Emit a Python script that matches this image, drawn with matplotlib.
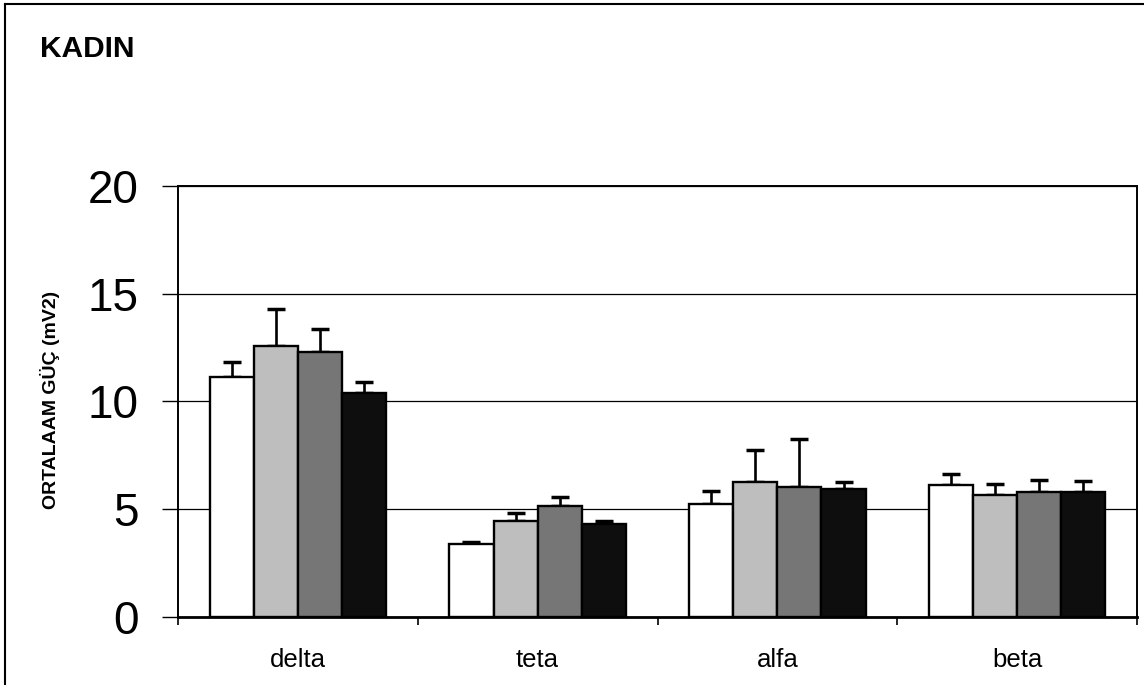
import matplotlib
matplotlib.use("Agg")
import matplotlib.pyplot as plt
import numpy as np
from matplotlib.lines import Line2D

plt.rcParams['font.family'] = ['Liberation Sans', 'DejaVu Sans']

categories = ["delta", "teta", "alfa", "beta"]
series1 = [11.14, 3.39, 5.24, 6.12]
series2 = [12.58, 4.45, 6.26, 5.66]
series3 = [12.30, 5.15, 6.03, 5.80]
series4 = [10.39, 4.32, 5.94, 5.80]
err1 = [0.69, 0.09, 0.61, 0.52]
err2 = [1.72, 0.38, 1.49, 0.51]
err3 = [1.06, 0.42, 2.23, 0.56]
err4 = [0.51, 0.13, 0.32, 0.51]
yticks = [0, 5, 10, 15, 20]
title = "KADIN"
ylabel = "ORTALAAM GÜÇ (mV2)"

values = [series1, series2, series3, series4]
errors = [err1, err2, err3, err4]
colors = ["#ffffff", "#bebebe", "#767676", "#0e0e0e"]

W, H = 1144, 685
fig = plt.figure(figsize=(W / 100, H / 100), dpi=100)
ax = fig.add_axes([178 / W, 1 - 617 / H, (1137 - 178) / W, (617 - 186) / H])

x = np.arange(len(categories))
bw = 0.184
for i, (vals, errs, c) in enumerate(zip(values, errors, colors)):
    pos = x + (i - 1.5) * bw
    ax.bar(pos, vals, width=bw, color=c, edgecolor="black", linewidth=1.7, zorder=3)
    ax.errorbar(pos, vals, yerr=[np.zeros(len(vals)), errs], fmt="none",
                ecolor="black", elinewidth=1.9, capsize=6.2, capthick=2.5, zorder=2)

ax.set_xlim(-0.5, 3.5)
ax.set_ylim(0, 20)
ax.set_yticks(yticks)
ax.set_yticklabels([str(t) for t in yticks], fontsize=33)
ax.yaxis.grid(True, color="black", linewidth=0.9, zorder=0)
ax.set_axisbelow(True)
ax.tick_params(axis="y", direction="out", length=11.5, width=1.0, pad=17)

ax.set_xticks(np.arange(-0.5, 4.0, 1.0))
ax.set_xticklabels([])
ax.set_xticks(x, minor=True)
ax.set_xticklabels(categories, minor=True, fontsize=18.5)
ax.tick_params(axis="x", which="major", direction="out", length=6, width=1.2)
ax.tick_params(axis="x", which="minor", length=0, pad=22)

for s in ["left", "right", "top"]:
    ax.spines[s].set_linewidth(1.4)
ax.spines["bottom"].set_linewidth(2.0)

fig.text(50 / W, 1 - 400 / H, ylabel,
         rotation=90, fontsize=14, fontweight="bold", ha="center", va="center")
fig.text(40 / W, 1 - 49 / H, title, fontsize=21.5, fontweight="bold", ha="left", va="center")

fig.add_artist(Line2D([5 / W, 5 / W], [0, 1 - 4 / H], transform=fig.transFigure,
                      color="black", linewidth=1.5))
fig.add_artist(Line2D([5 / W, 1], [1 - 4 / H, 1 - 4 / H], transform=fig.transFigure,
                      color="black", linewidth=1.5))

fig.savefig("out.png", dpi=100)
